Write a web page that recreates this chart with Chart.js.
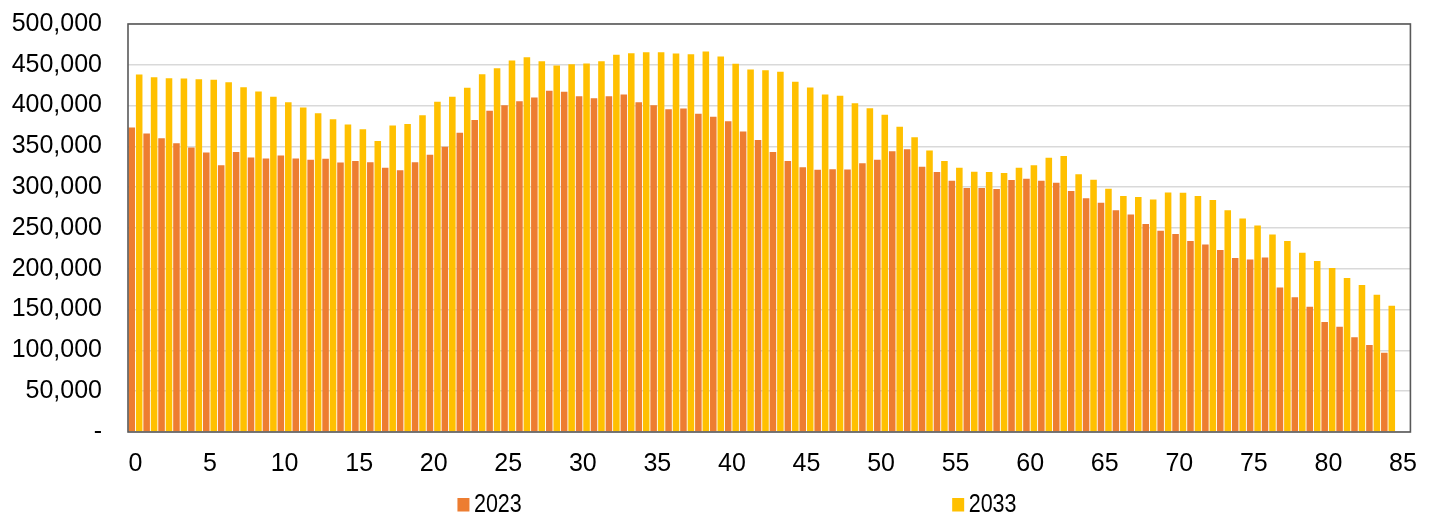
<!DOCTYPE html>
<html>
<head>
<meta charset="utf-8">
<script src="https://cdn.jsdelivr.net/npm/chart.js@4.4.1/dist/chart.umd.min.js"></script>
<style>
  body { margin: 0; background: #fff; }
  #wrap { width: 1434px; height: 515px; position: relative; }
</style>
</head>
<body>
<div id="wrap"><canvas id="popChart"></canvas></div>
<script>
// ages on the category axis (85 has no bars)
const ages = ['0','1','2','3','4','5','6','7','8','9','10','11','12','13','14','15','16','17','18','19',
  '20','21','22','23','24','25','26','27','28','29','30','31','32','33','34','35','36','37','38','39',
  '40','41','42','43','44','45','46','47','48','49','50','51','52','53','54','55','56','57','58','59',
  '60','61','62','63','64','65','66','67','68','69','70','71','72','73','74','75','76','77','78','79',
  '80','81','82','83','84','85'];

const pop2023 = [373200, 365800, 360100, 354000, 348700, 342600, 327000, 343000, 336400, 335200,
  338900, 335200, 333600, 334800, 330300, 332000, 330700, 323800, 320900, 330700,
  339700, 349500, 366700, 382200, 393600, 400500, 405400, 409900, 418100, 416900,
  411600, 409100, 411600, 413600, 404200, 400500, 395600, 396400, 389900, 386300,
  380900, 368300, 357700, 343000, 332000, 324600, 321300, 322100, 321700, 329500,
  333600, 344200, 346600, 325000, 318500, 307900, 298900, 298900, 297700, 308700,
  310300, 307900, 305400, 295200, 286600, 280900, 271900, 266600, 254800, 246600,
  242500, 234000, 229900, 222900, 213100, 211500, 214000, 177200, 165000, 153500,
  134700, 129000, 116000, 106600, 97200];

const pop2033 = [438100, 434800, 433600, 433200, 432400, 431600, 428700, 422600, 417300, 410800,
  404200, 397700, 390700, 383400, 376900, 371100, 356500, 375600, 377300, 388300,
  404600, 410800, 421800, 438500, 445900, 455300, 459300, 454400, 449100, 450800,
  451600, 454400, 462200, 464200, 465500, 465500, 463800, 463000, 466300, 460200,
  451200, 444200, 443400, 441400, 429100, 422200, 413600, 412000, 403000, 396900,
  388700, 374000, 361300, 345000, 332000, 323800, 318900, 318500, 317300, 323800,
  327000, 336000, 338100, 316000, 309100, 298100, 289100, 287900, 285000, 293600,
  293200, 289100, 284200, 271900, 261700, 253100, 242100, 234000, 219700, 209500,
  200900, 188600, 180100, 168200, 154700];

const seriesNames = ['2023', '2033'];
const seriesColors = ['#ED7D31', '#FFC000'];

const tickFont = { family: '"Liberation Sans", Arial, sans-serif', size: 25 };

// plot frame drawn around the chart area
const framePlugin = {
  id: 'frame',
  afterDatasetsDraw(chart) {
    const { ctx, chartArea: a } = chart;
    ctx.save();
    ctx.strokeStyle = '#595959';
    ctx.lineWidth = 1.6;
    ctx.strokeRect(a.left, a.top, a.right - a.left, a.bottom - a.top);
    ctx.restore();
  }
};

// legend spread out under the chart like the original, narrow lettering
const spreadLegend = {
  id: 'spreadLegend',
  afterDraw(chart) {
    const { ctx, width } = chart;
    const spots = [0.319, 0.664];
    ctx.save();
    ctx.font = '25px "Liberation Sans", Arial, sans-serif';
    ctx.textBaseline = 'alphabetic';
    chart.data.datasets.forEach((ds, i) => {
      const x = width * spots[i];
      ctx.fillStyle = ds.backgroundColor;
      ctx.fillRect(x, 498, 12, 13.5);
      ctx.save();
      ctx.translate(x + 16.5, 512);
      ctx.scale(0.86, 1);
      ctx.fillStyle = '#000';
      ctx.fillText(ds.label, 0, 0);
      ctx.restore();
    });
    ctx.restore();
  }
};

new Chart(document.getElementById('popChart'), {
  type: 'bar',
  data: {
    labels: ages,
    datasets: [
      { label: seriesNames[0], data: pop2023, backgroundColor: seriesColors[0] },
      { label: seriesNames[1], data: pop2033, backgroundColor: seriesColors[1] }
    ]
  },
  options: {
    responsive: true,
    maintainAspectRatio: false,
    animation: false,
    datasets: {
      bar: { categoryPercentage: 1.0, barPercentage: 0.88 }
    },
    layout: { padding: { top: 24, right: 23, bottom: 33, left: 0 } },
    plugins: {
      legend: { display: false },
      tooltip: { enabled: false }
    },
    scales: {
      x: {
        grid: { display: false, drawTicks: false },
        border: { display: false },
        ticks: {
          font: tickFont,
          color: '#000',
          padding: 17,
          autoSkip: false,
          maxRotation: 0,
          callback(value) {
            const lbl = this.getLabelForValue(value);
            return Number(lbl) % 5 === 0 ? lbl : '';
          }
        },
        afterFit(scale) { scale.height = 50; }
      },
      y: {
        min: 0,
        max: 500000,
        grid: { color: '#D9D9D9', lineWidth: 1.5, drawTicks: false },
        border: { display: false },
        ticks: {
          stepSize: 50000,
          font: tickFont,
          color: '#000',
          padding: 26,
          callback(v) { return v === 0 ? '-' : v.toLocaleString('en-US'); }
        },
        afterFit(scale) {
          scale.width = 128;
          scale.paddingTop = 0;
          scale.paddingBottom = 0;
        }
      }
    }
  },
  plugins: [framePlugin, spreadLegend]
});
</script>
</body>
</html>
